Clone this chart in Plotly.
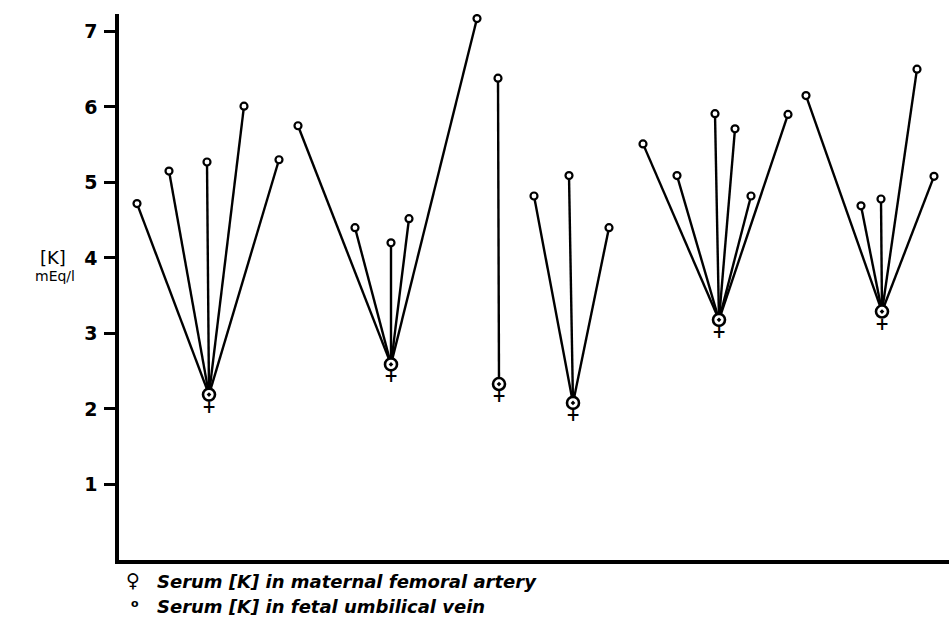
import plotly.graph_objects as go

# ---- data ----
# horizontal positions are arbitrary layout units (no categorical axis in the original)
maternal_x = [90, 272, 380, 454, 600, 763]
maternal_k = [2.19, 2.59, 2.33, 2.08, 3.18, 3.29]

fetal_group = [0, 0, 0, 0, 0,
               1, 1, 1, 1, 1,
               2,
               3, 3, 3,
               4, 4, 4, 4, 4, 4,
               5, 5, 5, 5, 5]
fetal_x = [18, 50, 88, 125, 160,
           179, 236, 272, 290, 358,
           379,
           415, 450, 490,
           524, 558, 596, 616, 632, 669,
           687, 742, 762, 798, 815]
fetal_k = [4.72, 5.15, 5.27, 6.01, 5.30,
           5.75, 4.40, 4.20, 4.52, 7.17,
           6.38,
           4.82, 5.09, 4.40,
           5.51, 5.09, 5.91, 5.71, 4.82, 5.90,
           6.15, 4.69, 4.78, 6.50, 5.08]

y_ticks = [1, 2, 3, 4, 5, 6, 7]
y_ticklabels = ["1", "2", "3", "4", "5", "6", "7"]

legend_maternal = "Serum [K] in maternal femoral artery"
legend_fetal = "Serum [K] in fetal umbilical vein"

# ---- build connecting lines ----
lx, ly = [], []
for g, x, k in zip(fetal_group, fetal_x, fetal_k):
    lx += [x, maternal_x[g], None]
    ly += [k, maternal_k[g], None]

W, H = 949, 631
ML, MR, MT, MB = 119, 0, 14, 71
PW = W - ML - MR
PH = H - MT - MB

def px(xp):
    return (xp - ML) / PW

def py(yp):
    return (H - MB - yp) / PH

fig = go.Figure()
fig.add_trace(go.Scatter(x=lx, y=ly, mode="lines",
                         line=dict(color="black", width=2.4),
                         hoverinfo="skip", showlegend=False))
fig.add_trace(go.Scatter(x=fetal_x, y=fetal_k, mode="markers",
                         marker=dict(symbol="circle", size=7, color="white",
                                     line=dict(color="black", width=2.2)),
                         name="fetal", showlegend=False))
fig.add_trace(go.Scatter(x=maternal_x, y=maternal_k, mode="markers",
                         marker=dict(symbol="circle-dot", size=12, color="white",
                                     line=dict(color="black", width=2.6)),
                         name="maternal", showlegend=False))

ann = []
# cross of the female symbol under each maternal marker
for x, k in zip(maternal_x, maternal_k):
    ann.append(dict(x=x, y=k, xref="x", yref="y", text="<b>+</b>", showarrow=False,
                    xanchor="center", yanchor="middle", yshift=-12,
                    font=dict(family="DejaVu Sans", size=17, color="black")))

fig.update_layout(
    width=W, height=H,
    margin=dict(l=ML, r=MR, t=MT, b=MB),
    paper_bgcolor="white", plot_bgcolor="white",
    showlegend=False,
    xaxis=dict(range=[0, PW], showgrid=False, zeroline=False, showticklabels=False,
               ticks="", showline=True, linecolor="black", linewidth=3.5, mirror=False,
               fixedrange=True),
    yaxis=dict(range=[0, 7.23], showgrid=False, zeroline=False,
               tickvals=y_ticks, ticktext=y_ticklabels,
               ticks="outside", ticklen=11, tickwidth=2.5, tickcolor="black",
               showline=True, linecolor="black", linewidth=3.5,
               tickfont=dict(family="DejaVu Sans", size=19, color="black", weight="bold"),
               ticklabelstandoff=3, fixedrange=True),
)

ann.append(dict(x=px(53), y=py(257), xref="paper", yref="paper", text="[K]",
                showarrow=False, xanchor="center", yanchor="middle",
                font=dict(family="DejaVu Sans", size=18, color="black")))
ann.append(dict(x=px(55), y=py(276), xref="paper", yref="paper", text="mEq/l",
                showarrow=False, xanchor="center", yanchor="middle",
                font=dict(family="DejaVu Sans", size=14, color="black")))
ann.append(dict(x=px(133), y=py(580), xref="paper", yref="paper", text="<b>♀</b>",
                showarrow=False, xanchor="center", yanchor="middle",
                font=dict(family="DejaVu Sans", size=19, color="black")))
ann.append(dict(x=px(135), y=py(603), xref="paper", yref="paper", text="<b>o</b>",
                showarrow=False, xanchor="center", yanchor="middle",
                font=dict(family="DejaVu Sans", size=11, color="black")))
ann.append(dict(x=px(155), y=py(581), xref="paper", yref="paper",
                text="<b><i>" + legend_maternal + "</i></b>",
                showarrow=False, xanchor="left", yanchor="middle",
                font=dict(family="DejaVu Sans", size=18, color="black")))
ann.append(dict(x=px(155), y=py(606), xref="paper", yref="paper",
                text="<b><i>" + legend_fetal + "</i></b>",
                showarrow=False, xanchor="left", yanchor="middle",
                font=dict(family="DejaVu Sans", size=18, color="black")))
fig.update_layout(annotations=ann)

fig.write_html("out.html", config={"displayModeBar": False},
               post_script="document.body.style.margin='0';document.body.style.overflow='hidden';")
